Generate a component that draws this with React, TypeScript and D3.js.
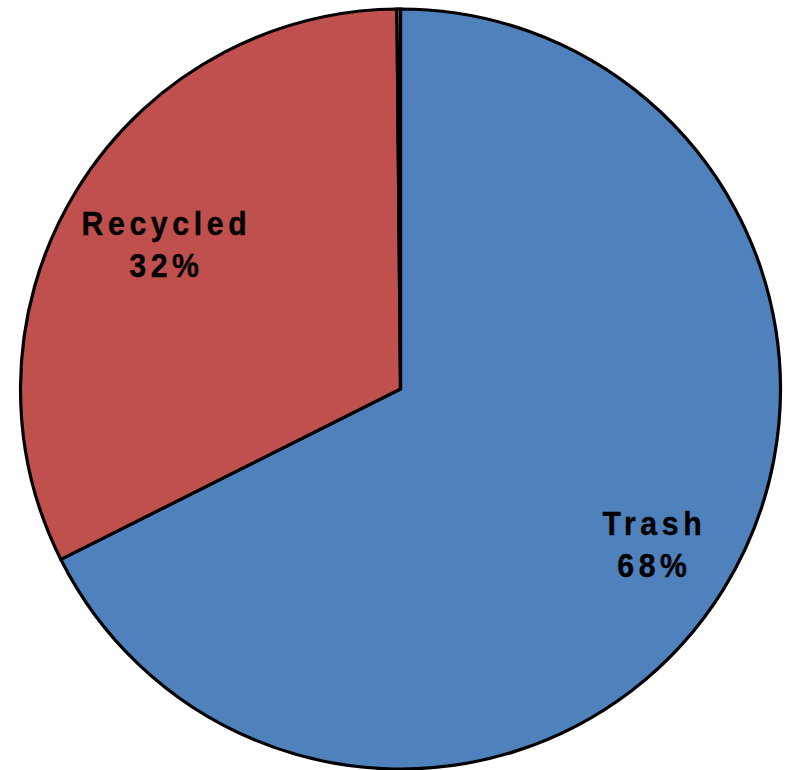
import React from "react";
import * as d3 from "d3";

const categories = ["Trash", "Recycled", ""];
const values = [67.7, 32.3, 0.15];
const labels = ["68%", "32%", ""];
const colors = ["#4F81BD", "#C0504D", "#FFFFFF"];

const W = 788;
const H = 770;
const cx = 400.5;
const cy = 389;
const R = 380;
const labelRadiusFactor = [0.778, 0.729, 0];
const fontSize = 32.5;
const scaleX = 0.93;
const ls = 5;

export default function App() {
  const pie = d3
    .pie<number>()
    .sort(null)
    .value((d) => d)(values);
  const arc = d3.arc<d3.PieArcDatum<number>>().innerRadius(0).outerRadius(R);

  return (
    <svg
      width={W}
      height={H}
      style={{ position: "absolute", left: 0, top: 0, background: "#fff" }}
    >
      <g transform={`translate(${cx},${cy})`}>
        {pie.map((p, i) => (
          <path
            key={i}
            d={arc(p) || ""}
            fill={colors[i]}
            stroke="#000"
            strokeWidth={3.2}
            strokeLinejoin="miter"
          />
        ))}
        {pie.map((p, i) => {
          if (!categories[i]) return null;
          const mid = (p.startAngle + p.endAngle) / 2;
          const r = R * labelRadiusFactor[i];
          const x = r * Math.sin(mid);
          const y = -r * Math.cos(mid);
          return (
            <g key={"t" + i} transform={`translate(${x},${y}) scale(${scaleX},1)`}>
              <text
                textAnchor="middle"
                fontFamily="'Liberation Sans', Arial, sans-serif"
                fontWeight="bold"
                fontSize={fontSize}
                letterSpacing={ls}
                fill="#000"
                stroke="#000"
                strokeWidth={0.4}
              >
                <tspan x={ls / 2} y={-9.5}>
                  {categories[i]}
                </tspan>
                <tspan x={ls / 2} y={32.5}>
                  {labels[i]}
                </tspan>
              </text>
            </g>
          );
        })}
      </g>
    </svg>
  );
}
